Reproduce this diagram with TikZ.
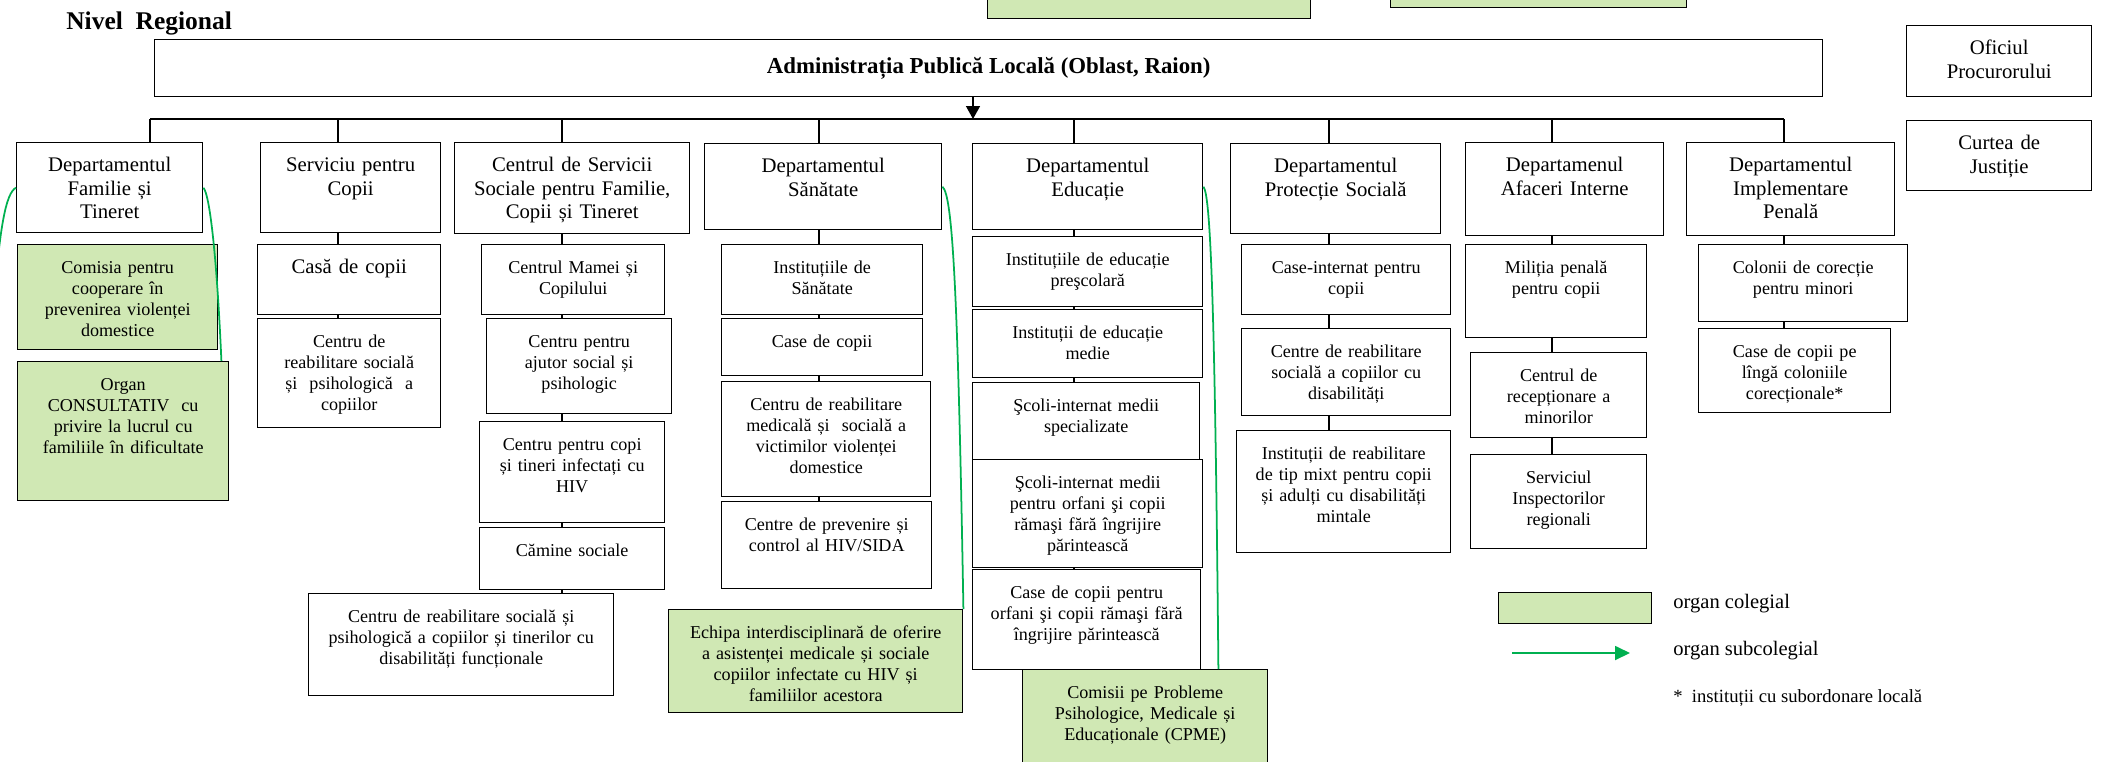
\documentclass[tikz,border=0pt]{standalone}
\usepackage{fontspec}
\setmainfont{Liberation Serif}
\usetikzlibrary{arrows.meta,backgrounds}

\definecolor{colegial}{HTML}{D0E8B4}
\definecolor{subcol}{HTML}{00B050}

\tikzset{
  plain/.style={draw, line width=0.8pt, anchor=north west, inner sep=0pt},
  box/.style={draw, line width=0.8pt, fill=white, anchor=north west, align=center,
    inner xsep=2pt, inner ysep=4pt, text height=12.5pt},
  dep/.style={box, font=\fontsize{11.8}{13.3}\selectfont},
  sub/.style={box, font=\fontsize{10.3}{12}\selectfont},
  coleg/.style={fill=colegial},
  size/.code 2 args={%
    \pgfmathsetlengthmacro\boxw{#1*0.2mm-4pt}%
    \pgfmathsetlengthmacro\boxd{#2*0.2mm-20.5pt}%
    \edef\tmpsize{\noexpand\pgfkeysalso{text width=\boxw, text depth=\boxd}}\tmpsize},
  link/.style={line width=0.8pt},
  subarrow/.style={subcol, line width=1pt},
  legend/.style={anchor=west, inner sep=0pt, font=\fontsize{11.7}{13}\selectfont},
}

\begin{document}
\begin{tikzpicture}[x=0.2mm, y=-0.2mm]
\useasboundingbox (0,0) rectangle (2102,761);
\clip (0,0) rectangle (2102,761);

% nodes
\node[anchor=base west, inner sep=0pt, font=\bfseries\fontsize{14.5}{17}\selectfont] (titlu) at (66,29) {Nivel~ Regional};

\node[plain, coleg, minimum width=64.6mm, minimum height=7.6mm] (sus1) at (987,-20) {};
\node[plain, coleg, minimum width=59.2mm, minimum height=5.4mm] (sus2) at (1390,-20) {};

\node[plain, minimum width=333.6mm, minimum height=11.4mm, font=\bfseries\fontsize{13}{15}\selectfont] (apl) at (154,39) {Administrația Publică Locală (Oblast, Raion)};

\node[dep, size={185}{71}] (ofi) at (1906,25) {Oficiul\\Procurorului};
\node[dep, size={185}{70}] (cur) at (1906,120) {Curtea de\\Justiție};

% departamente
\node[dep, size={186}{90}] (d1) at (16,142) {Departamentul\\Familie și\\Tineret};
\node[dep, size={180}{90}] (d2) at (260,142) {Serviciu pentru\\Copii};
\node[dep, size={235}{91}] (d3) at (454,142) {Centrul de Servicii\\Sociale pentru Familie,\\Copii și Tineret};
\node[dep, size={237}{86}] (d4) at (704,143) {Departamentul\\Sănătate};
\node[dep, size={230}{86}] (d5) at (972,143) {Departamentul\\Educație};
\node[dep, size={210}{90}] (d6) at (1230,143) {Departamentul\\Protecție Socială};
\node[dep, size={198}{93}] (d7) at (1465,142) {Departamenul\\Afaceri Interne};
\node[dep, size={208}{93}] (d8) at (1686,142) {Departamentul\\Implementare\\Penală};

% familie
\node[sub, coleg, size={200}{105}] (c1a) at (17,244) {Comisia pentru\\cooperare în\\prevenirea violenței\\domestice};
\node[sub, coleg, size={211}{139}] (c1b) at (17,361) {Organ\\CONSULTATIV~ cu\\privire la lucrul cu\\familiile în dificultate};

% serviciu copii
\node[dep, size={183}{70}] (c2a) at (257,244) {Casă de copii};
\node[sub, size={183}{109}] (c2b) at (257,318) {Centru de\\reabilitare socială\\și~ psihologică~ a\\copiilor};

% centrul de servicii
\node[sub, size={183}{70}] (c3a) at (481,244) {Centrul Mamei și\\Copilului};
\node[sub, size={185}{95}] (c3b) at (486,318) {Centru pentru\\ajutor social și\\psihologic};
\node[sub, size={185}{101}] (c3c) at (479,421) {Centru pentru copi\\și tineri infectați cu\\HIV};
\node[sub, size={185}{62}] (c3d) at (479,527) {Cămine sociale};
\node[sub, size={305}{102}] (c3e) at (308,593) {Centru de reabilitare socială și\\psihologică a copiilor și tinerilor cu\\disabilități funcționale};

% sanatate
\node[sub, size={201}{70}] (c4a) at (721,244) {Instituțiile de\\Sănătate};
\node[sub, size={201}{57}] (c4b) at (721,318) {Case de copii};
\node[sub, size={209}{115}] (c4c) at (721,381) {Centru de reabilitare\\medicală și~ socială a\\victimilor violenței\\domestice};
\node[sub, size={210}{87}] (c4d) at (721,501) {Centre de prevenire și\\control al HIV/SIDA};
\node[sub, coleg, size={294}{103}] (c4e) at (668,609) {Echipa interdisciplinară de oferire\\a asistenței medicale și sociale\\copiilor infectate cu HIV și\\familiilor acestora};

% educatie
\node[sub, size={230}{70}] (c5a) at (972,236) {Instituțiile de educație\\preşcolară};
\node[sub, size={230}{68}] (c5b) at (972,309) {Instituții de educație\\medie};
\node[sub, size={227}{78}] (c5c) at (972,382) {Şcoli-internat medii\\specializate};
\node[sub, size={230}{108}] (c5d) at (972,459) {Şcoli-internat medii\\pentru orfani şi copii\\rămaşi fără îngrijire\\părintească};
\node[sub, size={228}{100}] (c5e) at (972,569) {Case de copii pentru\\orfani şi copii rămaşi fără\\îngrijire părintească};
\node[sub, coleg, size={245}{120}] (c5f) at (1022,669) {Comisii pe Probleme\\Psihologice, Medicale și\\Educaționale (CPME)};

% protectie sociala
\node[sub, size={209}{70}] (c6a) at (1241,244) {Case-internat pentru\\copii};
\node[sub, size={209}{87}] (c6b) at (1241,328) {Centre de reabilitare\\socială a copiilor cu\\disabilități};
\node[sub, size={214}{122}] (c6c) at (1236,430) {Instituții de reabilitare\\de tip mixt pentru copii\\și adulți cu disabilități\\mintale};

% afaceri interne
\node[sub, size={181}{93}] (c7a) at (1465,244) {Miliția penală\\pentru copii};
\node[sub, size={176}{85}] (c7b) at (1470,352) {Centrul de\\recepționare a\\minorilor};
\node[sub, size={176}{94}] (c7c) at (1470,454) {Serviciul\\Inspectorilor\\regionali};

% implementare penala
\node[sub, size={209}{77}] (c8a) at (1698,244) {Colonii de corecție\\pentru minori};
\node[sub, size={192}{84}] (c8b) at (1698,328) {Case de copii pe\\lîngă coloniile\\corecționale*};

% legenda
\node[plain, coleg, minimum width=30.6mm, minimum height=6.1mm] (lgcol) at (1498,592) {};
\node[legend] (lgcolt) at (1673,604) {organ colegial};
\node[legend] (lgsubt) at (1673,651) {organ subcolegial};
\node[legend, font=\fontsize{10.6}{12}\selectfont] (lgstar) at (1673,698) {*~ instituții cu subordonare locală};
\coordinate (lga) at (1512,653);
\coordinate (lgb) at (1630,653);

% arrows
\coordinate (k0) at (973,119);
\coordinate (k1) at (150,119);
\coordinate (k2) at (338,119);
\coordinate (k3) at (562,119);
\coordinate (k4) at (819,119);
\coordinate (k5) at (1074,119);
\coordinate (k6) at (1329,119);
\coordinate (k7) at (1552,119);
\coordinate (k8) at (1784,119);
\coordinate (offl) at (-8,330);

\begin{pgfonlayer}{background}
\draw [link] (k1)--(k8);
\draw [link, -{Triangle[length=2.6mm,width=2.8mm]}] (k0 |- apl.south)--(k0);
\draw [link] (k1)--(k1 |- d1.north);
\draw [link] (k2)--(k2 |- c2b.north);
\draw [link] (k3)--(k3 |- c3e.north);
\draw [link] (k4)--(k4 |- c4d.north);
\draw [link] (k5)--(k5 |- c5e.north);
\draw [link] (k6)--(k6 |- c6c.north);
\draw [link] (k7)--(k7 |- c7c.north);
\draw [link] (k8)--(k8 |- c8b.north);
\end{pgfonlayer}

\draw [subarrow] (d1.west) .. controls (6,193) and (-1,225) .. (offl);
\draw [subarrow] (d1.east) .. controls (210,195) and (217,260) .. ([xshift=-1.6mm]c1b.north east);
\draw [subarrow] (d4.east) .. controls (953,195) and (958,300) .. (c4e.north east);
\draw [subarrow] (d5.east) .. controls (1211,195) and (1215,320) .. ([xshift=-10mm]c5f.north east);
\draw [subarrow, -{Triangle[length=3mm,width=2.8mm]}] (lga)--(lgb);

\end{tikzpicture}
\end{document}
